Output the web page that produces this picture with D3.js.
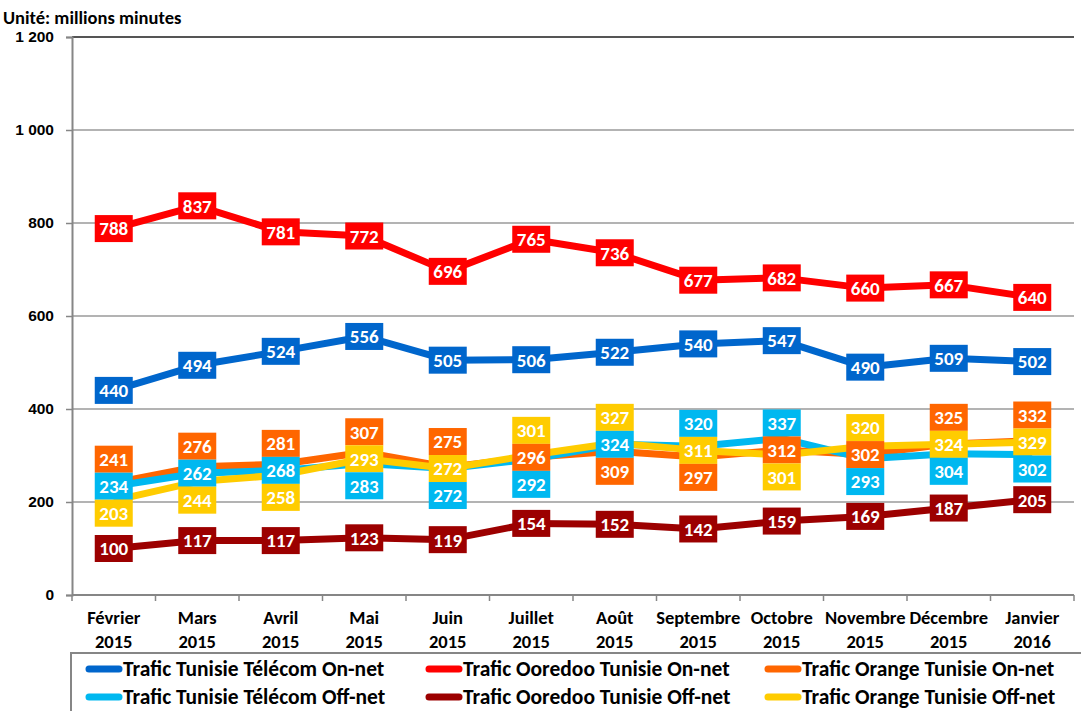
<!DOCTYPE html>
<html>
<head>
<meta charset="utf-8">
<script src="https://cdn.jsdelivr.net/npm/d3@7"></script>
<style>
  body { margin: 0; background: #fff; }
  svg { display: block; font-family: Carlito, Lato, sans-serif; font-weight: bold; }
</style>
</head>
<body>
<div id="chart"></div>
<script>
// Categories and values (millions of minutes)
const months = ['Février|2015', 'Mars|2015', 'Avril|2015', 'Mai|2015', 'Juin|2015', 'Juillet|2015',
  'Août|2015', 'Septembre|2015', 'Octobre|2015', 'Novembre|2015', 'Décembre|2015', 'Janvier|2016'];

const ttOn = [440, 494, 524, 556, 505, 506, 522, 540, 547, 490, 509, 502];
const ooredooOn = [788, 837, 781, 772, 696, 765, 736, 677, 682, 660, 667, 640];
const orangeOn = [241, 276, 281, 307, 275, 296, 309, 297, 312, 302, 325, 332];
const ttOff = [234, 262, 268, 283, 272, 292, 324, 320, 337, 293, 304, 302];
const ooredooOff = [100, 117, 117, 123, 119, 154, 152, 142, 159, 169, 187, 205];
const orangeOff = [203, 244, 258, 293, 272, 301, 327, 311, 301, 320, 324, 329];

const yTicks = [0, 200, 400, 600, 800, 1000, 1200];

const series = [
  { name: 'Trafic Tunisie Télécom On-net', values: ttOn, color: '#0066CC' },
  { name: 'Trafic Ooredoo Tunisie On-net', values: ooredooOn, color: '#FF0000' },
  { name: 'Trafic Orange Tunisie On-net', values: orangeOn, color: '#FF6600' },
  { name: 'Trafic Tunisie Télécom Off-net', values: ttOff, color: '#00B8F0' },
  { name: 'Trafic Ooredoo Tunisie Off-net', values: ooredooOff, color: '#9C0000' },
  { name: 'Trafic Orange Tunisie Off-net', values: orangeOff, color: '#FFCC00' }
];

const width = 1081, height = 711;
const plot = { left: 72, right: 1074, top: 37, bottom: 595 };

const svg = d3.select('#chart').append('svg')
  .attr('width', width)
  .attr('height', height);

const x = d3.scaleBand().domain(months).range([plot.left, plot.right]);
const y = d3.scaleLinear().domain([0, 1200]).range([plot.bottom, plot.top]);
const cx = m => x(m) + x.bandwidth() / 2;

// Gridlines
svg.append('g').selectAll('line')
  .data(yTicks.filter(t => t > 0))
  .join('line')
  .attr('x1', plot.left).attr('x2', plot.right)
  .attr('y1', d => y(d)).attr('y2', d => y(d))
  .attr('stroke', d => d === 1200 ? '#555' : '#9a9a9a')
  .attr('stroke-width', d => d === 1200 ? 2 : 1.5);

// Y axis
const yAxis = svg.append('g')
  .attr('transform', `translate(${plot.left},0)`)
  .call(d3.axisLeft(y).tickValues(yTicks).tickSize(6).tickPadding(12)
    .tickFormat(d => d3.format(',')(d).replace(',', ' ')));
yAxis.select('.domain').attr('stroke', '#868686').attr('stroke-width', 2);
yAxis.selectAll('.tick line').attr('stroke', '#868686').attr('stroke-width', 1.5);
yAxis.selectAll('.tick text')
  .attr('fill', '#000').style('font-size', '15.5px').style('font-family', 'inherit');

// X axis: ticks at category boundaries
const xAxis = svg.append('g').attr('transform', `translate(0,${plot.bottom})`);
xAxis.append('line')
  .attr('x1', plot.left).attr('x2', plot.right)
  .attr('stroke', '#868686').attr('stroke-width', 2);
xAxis.selectAll('.xtick')
  .data(months.map(m => x(m)).concat([plot.right]))
  .join('line')
  .attr('class', 'xtick')
  .attr('x1', d => d).attr('x2', d => d)
  .attr('y1', 0).attr('y2', 6)
  .attr('stroke', '#868686').attr('stroke-width', 1.5);
xAxis.selectAll('.xlabel')
  .data(months)
  .join('text')
  .attr('class', 'xlabel')
  .attr('text-anchor', 'middle')
  .style('font-size', '18.5px')
  .each(function (m) {
    const parts = m.split('|');
    const t = d3.select(this);
    t.append('tspan').attr('x', cx(m)).attr('y', 29).text(parts[0]);
    t.append('tspan').attr('x', cx(m)).attr('y', 53).text(parts[1]);
  });

// Unit title
svg.append('text')
  .attr('x', 3).attr('y', 24)
  .style('font-size', '18.5px')
  .text('Unité: millions minutes');

// Lines
const line = d3.line()
  .x((d, i) => cx(months[i]))
  .y(d => y(d));

svg.append('g').selectAll('path')
  .data(series)
  .join('path')
  .attr('d', s => line(s.values))
  .attr('fill', 'none')
  .attr('stroke', s => s.color)
  .attr('stroke-width', 7)
  .attr('stroke-linejoin', 'round');

// Data labels: top series centred on points; the three close series are stacked
// (highest above, middle centred on its point, lowest below)
const boxW = 38, boxH = 27;
const labels = [];
[0, 1, 4].forEach(si => {
  series[si].values.forEach((v, i) => {
    labels.push({ s: series[si], v, i, yc: y(v) });
  });
});
months.forEach((m, i) => {
  const group = [2, 3, 5].map(si => ({ si, s: series[si], v: series[si].values[i] }))
    .sort((a, b) => b.v - a.v || b.si - a.si);
  const mid = y(group[1].v);
  group.forEach((g, k) => {
    labels.push({ s: g.s, v: g.v, i, yc: mid + (k - 1) * boxH });
  });
});

const lab = svg.append('g').selectAll('g')
  .data(labels)
  .join('g')
  .attr('transform', d => `translate(${cx(months[d.i])},${d.yc})`);
lab.append('rect')
  .attr('x', -boxW / 2).attr('y', -boxH / 2)
  .attr('width', boxW).attr('height', boxH)
  .attr('fill', d => d.s.color);
lab.append('text')
  .attr('text-anchor', 'middle')
  .attr('dy', '0.36em')
  .attr('fill', '#fff')
  .style('font-size', '19px')
  .text(d => d.v);

// Legend
svg.append('rect')
  .attr('x', 71).attr('y', 653)
  .attr('width', 1020).attr('height', 70)
  .attr('fill', 'none')
  .attr('stroke', '#868686').attr('stroke-width', 2);

const legendCols = [86, 426, 765];
const legendRows = [669, 697];
const legend = svg.append('g').selectAll('g')
  .data(series)
  .join('g')
  .attr('transform', (d, i) => `translate(${legendCols[i % 3]},${legendRows[Math.floor(i / 3)]})`);
legend.append('line')
  .attr('x1', 3).attr('x2', 33)
  .attr('stroke', d => d.color)
  .attr('stroke-width', 7)
  .attr('stroke-linecap', 'round');
legend.append('text')
  .attr('x', 37)
  .attr('dy', '0.33em')
  .style('font-size', '21.5px')
  .text(d => d.name);
</script>
</body>
</html>
